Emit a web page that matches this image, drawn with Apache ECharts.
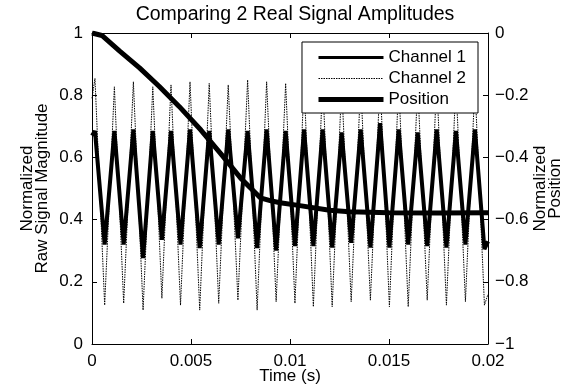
<!DOCTYPE html>
<html>
<head>
<meta charset="utf-8">
<script src="https://cdn.jsdelivr.net/npm/echarts@6/dist/echarts.min.js"></script>
<style>
	html, body { margin: 0; padding: 0; background: #fff; }
	#chart { width: 571px; height: 389px; }
</style>
</head>
<body>
<div id="chart"></div>
<script>
// times of the signal turning points (peaks / troughs)
const signalTime = [0, 0.00015, 0.00064, 0.00113, 0.00160, 0.00209, 0.00258, 0.00307, 0.00353, 0.00399, 0.00447,
	0.00495, 0.00544, 0.00592, 0.00640, 0.00688, 0.00737, 0.00786, 0.00834, 0.00882, 0.00930,
	0.00978, 0.01025, 0.01071, 0.01118, 0.01165, 0.01213, 0.01261, 0.01309, 0.01357, 0.01406,
	0.01455, 0.01502, 0.01549, 0.01597, 0.01645, 0.01693, 0.01741, 0.01790, 0.01838, 0.01886,
	0.01934, 0.01982, 0.02];

const channel1 = [0.67, 0.685, 0.32, 0.685, 0.32, 0.69, 0.276, 0.685, 0.335, 0.685, 0.32,
	0.69, 0.308, 0.685, 0.32, 0.69, 0.34, 0.685, 0.308, 0.69, 0.30,
	0.685, 0.315, 0.69, 0.315, 0.69, 0.31, 0.68, 0.325, 0.69, 0.31,
	0.71, 0.31, 0.69, 0.32, 0.68, 0.315, 0.69, 0.31, 0.685, 0.32,
	0.69, 0.305, 0.33];

const channel2 = [0.79, 0.854, 0.125, 0.827, 0.131, 0.843, 0.109, 0.827, 0.147, 0.833, 0.125,
	0.843, 0.109, 0.838, 0.131, 0.833, 0.141, 0.849, 0.109, 0.843, 0.136,
	0.838, 0.131, 0.84, 0.12, 0.845, 0.12, 0.835, 0.136, 0.84, 0.141,
	0.85, 0.12, 0.84, 0.12, 0.835, 0.141, 0.845, 0.125, 0.84, 0.136,
	0.835, 0.125, 0.16];

const positionTime = [0, 0.0005, 0.0014, 0.0024, 0.0034, 0.0044, 0.0055, 0.0065, 0.0075, 0.0085,
	0.0090, 0.0095, 0.0105, 0.0120, 0.0130, 0.0150, 0.0175, 0.0200];
const position = [0, -0.008, -0.058, -0.112, -0.172, -0.236, -0.312, -0.388, -0.466, -0.530,
	-0.539, -0.546, -0.555, -0.570, -0.575, -0.578, -0.579, -0.578];

const timeTicks = { min: 0, max: 0.02, interval: 0.005 };
const leftTicks = { min: 0, max: 1, interval: 0.2 };
const rightTicks = { min: -1, max: 0, interval: 0.2 };

const FONT = 'Liberation Sans';

function pairs(xs, ys) {
	return xs.map((x, i) => [x, ys[i]]);
}

function minus(v) {
	return String(v).replace('-', '\u2212');
}

const axisLine = { show: true, onZero: false, lineStyle: { color: '#000', width: 1 } };
const axisTick = { show: true, inside: true, length: 5, lineStyle: { color: '#000', width: 1 } };
const axisLabel = { color: '#000', fontFamily: FONT, fontSize: 17 };
const nameStyle = { color: '#000', fontFamily: FONT, fontSize: 17, lineHeight: 15 };

const chart = echarts.init(document.getElementById('chart'));

chart.setOption({
	animation: false,
	backgroundColor: '#fff',
	title: {
		text: 'Comparing 2 Real Signal Amplitudes',
		left: 290,
		textAlign: 'center',
		top: 0,
		textStyle: { color: '#000', fontFamily: FONT, fontSize: 19.5, fontWeight: 'normal' }
	},
	grid: { left: 92, right: 83, top: 33, bottom: 45, outerBoundsMode: 'none' },
	legend: {
		right: 93,
		top: 42,
		orient: 'vertical',
		backgroundColor: '#fff',
		borderColor: '#000',
		borderWidth: 1,
		borderRadius: 0,
		padding: [7, 12, 5, 14],
		itemWidth: 65,
		itemHeight: 14,
		itemGap: 4,
		itemStyle: { opacity: 0 },
		textStyle: { color: '#000', fontFamily: FONT, fontSize: 17 },
		data: [
			{ name: 'Channel 1', lineStyle: { width: 3, color: '#000' } },
			{ name: 'Channel 2', lineStyle: { width: 1, color: '#000', type: [1.5, 1] } },
			{ name: 'Position', lineStyle: { width: 5, color: '#000' } }
		]
	},
	xAxis: [
		{
			type: 'value',
			...timeTicks,
			name: 'Time (s)',
			nameLocation: 'middle',
			nameGap: 25,
			nameMoveOverlap: false,
			nameTextStyle: nameStyle,
			axisLine,
			axisTick,
			axisLabel: { ...axisLabel, margin: 9 },
			splitLine: { show: false }
		},
		{
			type: 'value',
			position: 'top',
			...timeTicks,
			axisLine,
			axisTick,
			axisLabel: { show: false },
			splitLine: { show: false }
		}
	],
	yAxis: [
		{
			type: 'value',
			...leftTicks,
			name: 'Normalized\nRaw Signal Magnitude',
			nameLocation: 'middle',
			nameRotate: 90,
			nameGap: 42,
			nameMoveOverlap: false,
			nameTextStyle: nameStyle,
			axisLine,
			axisTick,
			axisLabel: { ...axisLabel, margin: 9 },
			splitLine: { show: false }
		},
		{
			type: 'value',
			position: 'right',
			...rightTicks,
			name: 'Normalized\nPosition',
			nameLocation: 'middle',
			nameRotate: 90,
			nameGap: 45,
			nameMoveOverlap: false,
			nameTextStyle: nameStyle,
			axisLine,
			axisTick,
			axisLabel: { ...axisLabel, margin: 7, formatter: minus },
			splitLine: { show: false }
		}
	],
	series: [
		{
			name: 'Channel 1',
			type: 'line',
			data: pairs(signalTime, channel1),
			symbol: 'none',
			itemStyle: { color: '#000' },
			lineStyle: { color: '#000', width: 4 },
			z: 3
		},
		{
			name: 'Channel 2',
			type: 'line',
			data: pairs(signalTime, channel2),
			symbol: 'none',
			itemStyle: { color: '#000' },
			lineStyle: { color: '#000', width: 1, type: [1.5, 1] },
			z: 2
		},
		{
			name: 'Position',
			type: 'line',
			yAxisIndex: 1,
			data: pairs(positionTime, position),
			symbol: 'none',
			itemStyle: { color: '#000' },
			lineStyle: { color: '#000', width: 5 },
			z: 4
		}
	]
});
</script>
</body>
</html>
